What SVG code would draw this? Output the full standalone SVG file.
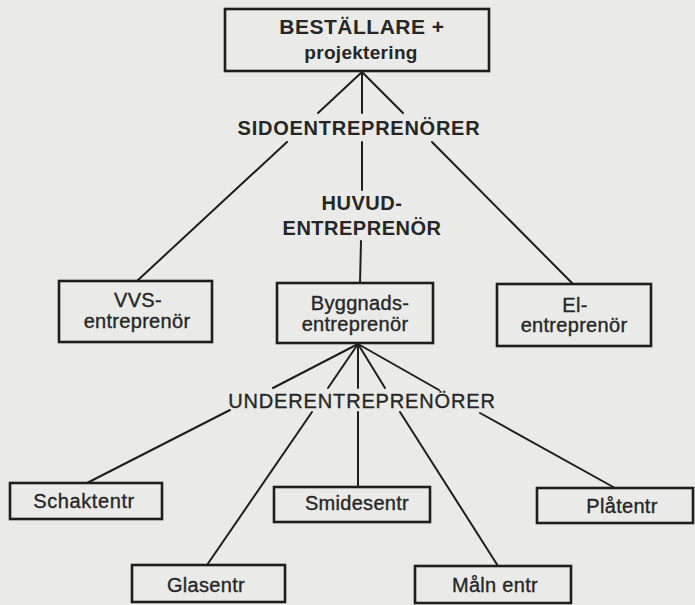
<svg xmlns="http://www.w3.org/2000/svg" width="695" height="605" viewBox="0 0 695 605">
<style>
.bg{fill:#eaebe8}
.box{fill:none;stroke:#1e1e1e;stroke-width:2.6}
.ln{stroke:#1e1e1e;stroke-width:2;fill:none;stroke-linecap:round}
text{font-family:"Liberation Sans",Arial,sans-serif;fill:#262626;text-anchor:middle}
.h{font-weight:bold;font-size:20px;letter-spacing:0.5px}
.n{font-size:20px;letter-spacing:0.3px;stroke:#262626;stroke-width:0.35}
.u{font-size:20px;letter-spacing:0.85px;stroke:#262626;stroke-width:0.35}
</style>
<rect class="bg" x="0" y="0" width="695" height="605"/>
<g id="connectors">
<line class="ln" x1="362" y1="72" x2="318" y2="113"/>
<line class="ln" x1="287" y1="142" x2="137" y2="281"/>
<line class="ln" x1="362" y1="72" x2="362" y2="113"/>
<line class="ln" x1="362" y1="142" x2="362" y2="190"/>
<line class="ln" x1="361" y1="241" x2="360" y2="283"/>
<line class="ln" x1="362" y1="72" x2="403" y2="113"/>
<line class="ln" x1="432" y1="142" x2="573" y2="284"/>
<line class="ln" x1="358" y1="344" x2="273" y2="388"/>
<line class="ln" x1="230" y1="410" x2="87" y2="483"/>
<line class="ln" x1="358" y1="344" x2="328" y2="388"/>
<line class="ln" x1="312" y1="412" x2="207" y2="565"/>
<line class="ln" x1="358" y1="344" x2="358" y2="388"/>
<line class="ln" x1="358" y1="412" x2="358" y2="487"/>
<line class="ln" x1="358" y1="344" x2="385" y2="388"/>
<line class="ln" x1="400" y1="412" x2="498" y2="566"/>
<line class="ln" x1="358" y1="344" x2="439" y2="390"/>
<line class="ln" x1="480" y1="413" x2="615" y2="488"/>
</g>
<g id="label-sido"><text class="h" x="359" y="135" style="letter-spacing:0.75px">SIDOENTREPRENÖRER</text></g>
<g id="label-huvud"><text class="h" x="362" y="210">HUVUD-</text><text class="h" x="362" y="235">ENTREPRENÖR</text></g>
<g id="label-under"><text class="u" x="362" y="408">UNDERENTREPRENÖRER</text></g>
<g id="bestallare">
<rect class="box" x="225" y="9" width="264" height="62"/>
<text class="h" x="362" y="34" style="font-size:21px">BESTÄLLARE +</text>
<text class="h" x="361" y="59" style="font-size:19px;letter-spacing:0.3px">projektering</text>
</g>
<g id="vvs">
<rect class="box" x="59" y="281" width="153" height="61"/>
<text class="n" x="138" y="307">VVS-</text>
<text class="n" x="137" y="328">entreprenör</text>
</g>
<g id="byggnads">
<rect class="box" x="277" y="283" width="156" height="60"/>
<text class="n" x="360" y="310">Byggnads-</text>
<text class="n" x="355" y="331">entreprenör</text>
</g>
<g id="el">
<rect class="box" x="497" y="284" width="154" height="62"/>
<text class="n" x="575" y="312">El-</text>
<text class="n" x="574" y="332">entreprenör</text>
</g>
<g id="schakt">
<rect class="box" x="10" y="483" width="152" height="36"/>
<text class="n" x="84" y="508" style="letter-spacing:0.6px">Schaktentr</text>
</g>
<g id="smides">
<rect class="box" x="274" y="487" width="156" height="35"/>
<text class="n" x="357" y="510">Smidesentr</text>
</g>
<g id="platentr">
<rect class="box" x="537" y="488" width="156" height="35"/>
<text class="n" x="622" y="513">Plåtentr</text>
</g>
<g id="glas">
<rect class="box" x="132" y="565" width="153" height="37"/>
<text class="n" x="206" y="592">Glasentr</text>
</g>
<g id="maln">
<rect class="box" x="415" y="566" width="156" height="37"/>
<text class="n" x="495" y="592">Måln entr</text>
</g>
</svg>
